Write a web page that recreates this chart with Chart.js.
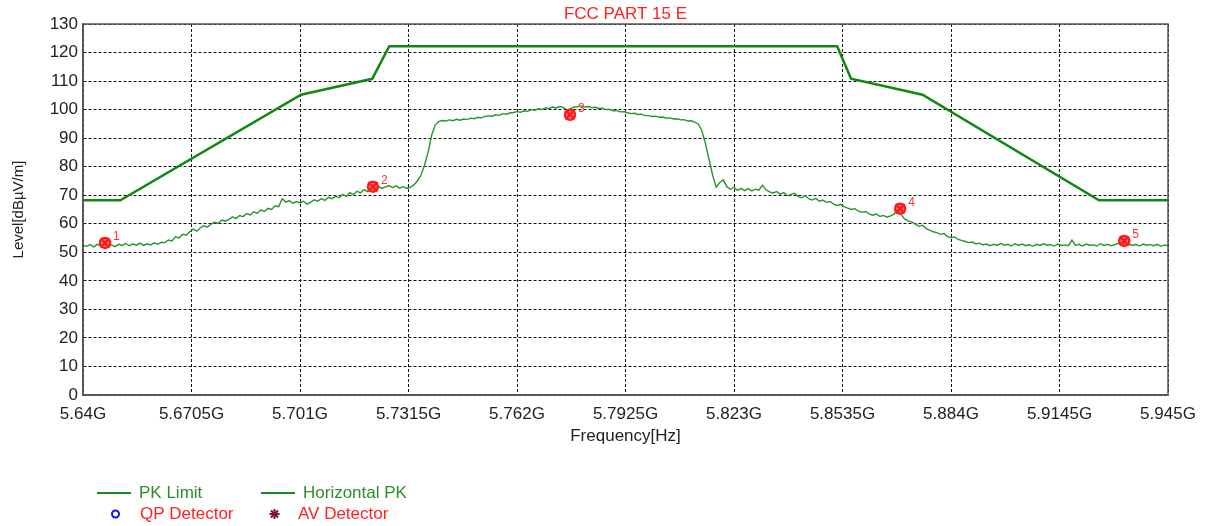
<!DOCTYPE html>
<html><head><meta charset="utf-8">
<script src="https://cdn.jsdelivr.net/npm/chart.js@4/dist/chart.umd.min.js"></script>
<style>html,body{margin:0;padding:0;background:#fff;}#wrap{position:relative;width:1205px;height:526px;}</style>
</head><body><div id="wrap"><canvas id="c" width="1205" height="526"></canvas></div>
<script>
const chartTitle = "FCC PART 15 E";
const xAxisTitle = "Frequency[Hz]";
const yAxisTitle = "Level[dBµV/m]";
const xTickValues = [5640, 5670.5, 5701, 5731.5, 5762, 5792.5, 5823, 5853.5, 5884, 5914.5, 5945];
const xTickLabels = ["5.64G","5.6705G","5.701G","5.7315G","5.762G","5.7925G","5.823G","5.8535G","5.884G","5.9145G","5.945G"];
const limitFreq = [5640, 5650.5, 5701.3, 5721.3, 5726.1, 5852, 5855.9, 5876, 5925.6, 5945];
const limitLevel = [68.2, 68.2, 105.2, 110.8, 122.2, 122.2, 110.8, 105.2, 68.2, 68.2];
const traceFreq = [
5640,5641,5642,5643,5644,5645,5646,5647,5648,5649,
5650,5651,5652,5653,5654,5655,5656,5657,5658,5659,
5660,5661,5662,5663,5664,5665,5666,5667,5668,5669,
5670,5671,5672,5673,5674,5675,5676,5677,5678,5679,
5680,5681,5682,5683,5684,5685,5686,5687,5688,5689,
5690,5691,5692,5693,5694,5695,5696,5697,5698,5699,
5700,5701,5702,5703,5704,5705,5706,5707,5708,5709,
5710,5711,5712,5713,5714,5715,5716,5717,5718,5719,
5720,5721,5722,5723,5724,5725,5726,5727,5728,5729,
5730,5731,5732,5733,5734,5735,5736,5737,5738,5739,
5740,5741,5742,5743,5744,5745,5746,5747,5748,5749,
5750,5751,5752,5753,5754,5755,5756,5757,5758,5759,
5760,5761,5762,5763,5764,5765,5766,5767,5768,5769,
5770,5771,5772,5773,5774,5775,5776,5777,5778,5779,
5780,5781,5782,5783,5784,5785,5786,5787,5788,5789,
5790,5791,5792,5793,5794,5795,5796,5797,5798,5799,
5800,5801,5802,5803,5804,5805,5806,5807,5808,5809,
5810,5811,5812,5813,5814,5815,5816,5817,5818,5819,
5820,5821,5822,5823,5824,5825,5826,5827,5828,5829,
5830,5831,5832,5833,5834,5835,5836,5837,5838,5839,
5840,5841,5842,5843,5844,5845,5846,5847,5848,5849,
5850,5851,5852,5853,5854,5855,5856,5857,5858,5859,
5860,5861,5862,5863,5864,5865,5866,5867,5868,5869,
5870,5871,5872,5873,5874,5875,5876,5877,5878,5879,
5880,5881,5882,5883,5884,5885,5886,5887,5888,5889,
5890,5891,5892,5893,5894,5895,5896,5897,5898,5899,
5900,5901,5902,5903,5904,5905,5906,5907,5908,5909,
5910,5911,5912,5913,5914,5915,5916,5917,5918,5919,
5920,5921,5922,5923,5924,5925,5926,5927,5928,5929,
5930,5931,5932,5933,5934,5935,5936,5937,5938,5939,
5940,5941,5942,5943,5944,5945];
const traceLevel = [
52.4,52.1,52.7,51.9,52.8,52.3,52.9,52.2,52.6,52.0,
52.8,52.4,53.1,52.3,52.9,52.5,53.2,52.4,53.0,52.6,
53.3,52.8,53.5,53.4,54.3,54.0,55.4,55.0,56.3,56.0,
57.2,58.1,57.4,58.6,59.3,58.8,59.9,60.5,60.1,61.3,
60.9,61.5,62.4,61.8,62.9,62.5,63.6,63.1,64.2,63.7,
64.8,64.3,65.4,65.0,66.3,66.0,68.8,67.6,68.1,67.2,
67.8,67.3,67.9,66.9,67.6,68.4,67.9,68.8,68.2,69.3,
68.8,69.6,69.1,70.3,69.6,70.9,70.2,71.4,70.8,72.0,
71.3,72.6,72.0,73.1,72.4,72.9,73.4,72.7,73.3,72.5,
73.0,72.4,72.8,73.6,75.0,77.0,80.5,85.0,91.0,94.6,
95.8,96.2,96.0,96.4,96.1,96.6,96.3,96.7,96.5,97.0,
96.8,97.3,97.1,97.6,97.8,97.7,98.2,98.0,98.6,98.4,
98.8,99.0,99.3,99.1,99.6,99.4,100.0,99.8,100.3,100.1,
100.6,100.4,100.9,100.6,101.1,100.8,99.9,100.2,100.9,101.0,
101.3,100.9,101.1,100.7,100.8,100.4,100.5,100.0,100.1,99.6,
99.7,99.2,99.3,98.9,98.6,98.7,98.3,98.4,97.9,97.9,
97.6,97.7,97.3,97.4,97.0,97.1,96.7,96.8,96.4,96.5,
96.0,96.1,95.6,94.9,92.5,88.0,82.4,77.0,72.8,74.5,
75.4,73.0,72.1,72.8,71.7,72.4,71.6,72.3,71.5,72.1,
71.8,73.5,71.9,71.2,70.8,71.3,70.4,70.9,69.8,70.3,
70.7,69.6,69.1,69.9,68.8,68.3,68.9,67.9,68.3,67.5,
67.8,66.9,66.4,66.8,65.9,65.5,65.0,65.3,64.4,64.0,
64.3,63.5,63.0,63.4,62.6,62.9,62.3,62.8,63.4,64.9,
63.2,61.6,61.0,60.6,59.9,59.1,59.5,58.3,57.8,57.2,
56.9,56.3,56.6,55.5,55.1,55.4,54.5,54.2,53.8,53.4,
53.6,52.9,53.2,52.6,52.9,52.3,52.8,52.4,53.1,52.5,
52.8,52.2,53.0,52.4,52.9,52.3,52.7,52.1,52.8,52.4,
53.0,52.5,52.7,52.2,52.9,52.4,52.6,52.3,54.3,52.4,
52.8,52.2,52.9,52.5,52.6,52.2,53.0,52.4,52.8,52.3,
52.7,53.1,53.4,52.6,52.9,52.4,52.8,52.2,52.9,52.5,
52.7,52.3,52.8,52.1,52.6,52.3];
const markerFreq = [5646.2, 5721.5, 5776.9, 5869.7, 5932.7];
const markerLevel = [53.3, 73.0, 98.2, 65.3, 54.0];
const markerNames = ["1","2","3","4","5"];
const seriesNames = ["PK Limit", "Horizontal PK", "QP Detector", "AV Detector"];

const FONT = "'Liberation Sans', Arial, sans-serif";
const toXY = (xs, ys) => xs.map((x, i) => ({x: x, y: ys[i]}));

const framePlugin = {
  id: 'frame',
  afterDraw(chart) {
    const {ctx, chartArea: a} = chart;
    ctx.save();
    ctx.strokeStyle = '#555';
    ctx.lineWidth = 1.5;
    ctx.strokeRect(a.left, a.top, a.right - a.left, a.bottom - a.top);
    ctx.fillStyle = '#ff2020';
    ctx.font = '17px ' + FONT;
    ctx.textAlign = 'center';
    ctx.textBaseline = 'middle';
    ctx.fillText(chartTitle, (a.left + a.right) / 2, 14);
    const meta = chart.getDatasetMeta(3);
    ctx.font = '12px ' + FONT;
    ctx.textAlign = 'left';
    ctx.fillStyle = '#ff3030';
    meta.data.forEach((el, i) => {
      ctx.fillText(markerNames[i], el.x + 8, el.y - 6);
    });
    ctx.font = '17px ' + FONT;
    ctx.textBaseline = 'middle';
    const r1 = 493, r2 = 514;
    ctx.strokeStyle = '#1a8a1a'; ctx.lineWidth = 2;
    ctx.beginPath(); ctx.moveTo(97, r1); ctx.lineTo(131, r1); ctx.stroke();
    ctx.beginPath(); ctx.moveTo(261, r1); ctx.lineTo(295, r1); ctx.stroke();
    ctx.fillStyle = '#2e8b2e';
    ctx.fillText(seriesNames[0], 139, r1);
    ctx.fillText(seriesNames[1], 303, r1);
    ctx.strokeStyle = '#1010ee'; ctx.lineWidth = 2;
    ctx.beginPath(); ctx.arc(115.5, r2, 3.5, 0, Math.PI * 2); ctx.stroke();
    ctx.strokeStyle = '#7a1040'; ctx.lineWidth = 2;
    for (let k = 0; k < 4; k++) {
      const ang = k * Math.PI / 4;
      ctx.beginPath();
      ctx.moveTo(274.5 - 5 * Math.cos(ang), r2 - 5 * Math.sin(ang));
      ctx.lineTo(274.5 + 5 * Math.cos(ang), r2 + 5 * Math.sin(ang));
      ctx.stroke();
    }
    ctx.fillStyle = '#ff2020';
    ctx.fillText(seriesNames[2], 140, r2);
    ctx.fillText(seriesNames[3], 298, r2);
    ctx.restore();
  }
};

new Chart(document.getElementById('c'), {
  type: 'line',
  data: {
    datasets: [
      {label: seriesNames[0], data: toXY(limitFreq, limitLevel), borderColor: '#118811', borderWidth: 2.5, pointRadius: 0, tension: 0, order: 2},
      {label: seriesNames[1], data: toXY(traceFreq, traceLevel), borderColor: '#2a942a', borderWidth: 1.4, pointRadius: 0, tension: 0, order: 3},
      {label: 'marker-bg', type: 'scatter', data: toXY(markerFreq, markerLevel), pointStyle: 'circle', pointRadius: 5, backgroundColor: 'rgba(255,40,40,0.5)', borderColor: '#ff1a1a', borderWidth: 2.5, showLine: false, order: 1},
      {label: 'markers', type: 'scatter', data: toXY(markerFreq, markerLevel), pointStyle: 'crossRot', pointRadius: 6.5, borderColor: '#ff1a1a', borderWidth: 2.5, showLine: false, order: 0},
      {label: seriesNames[2], data: [], borderColor: '#1010ee'},
      {label: seriesNames[3], data: [], borderColor: '#7a1040'}
    ]
  },
  options: {
    responsive: false,
    animation: false,
    layout: {padding: {left: 0, right: 37, top: 24, bottom: 71}},
    plugins: {legend: {display: false}, title: {display: false}, tooltip: {enabled: false}},
    scales: {
      x: {
        type: 'linear', min: 5640, max: 5945,
        afterBuildTicks(scale) { scale.ticks = xTickValues.map(v => ({value: v})); },
        afterFit(scale) { scale.height = 60; },
        ticks: {autoSkip: false, maxRotation: 0, padding: 9, color: '#222', font: {family: FONT, size: 17},
          callback: (v, i) => xTickLabels[i]},
        grid: {color: '#111', lineWidth: 1, drawTicks: false},
        border: {display: true, color: '#555', width: 1.5, dash: [3, 2]},
        title: {display: true, text: xAxisTitle, color: '#222', font: {family: FONT, size: 17}, padding: {top: 0, bottom: 8}}
      },
      y: {
        min: 0, max: 130,
        afterFit(scale) { scale.width = 83; },
        ticks: {stepSize: 10, padding: 5, color: '#222', font: {family: FONT, size: 17}},
        grid: {color: '#111', lineWidth: 1, drawTicks: false},
        border: {display: true, color: '#555', width: 1.5, dash: [3, 2]},
        title: {display: true, text: yAxisTitle, color: '#222', font: {family: FONT, size: 15}, padding: {top: 10, bottom: 0}}
      }
    }
  },
  plugins: [framePlugin]
});
</script></body></html>
